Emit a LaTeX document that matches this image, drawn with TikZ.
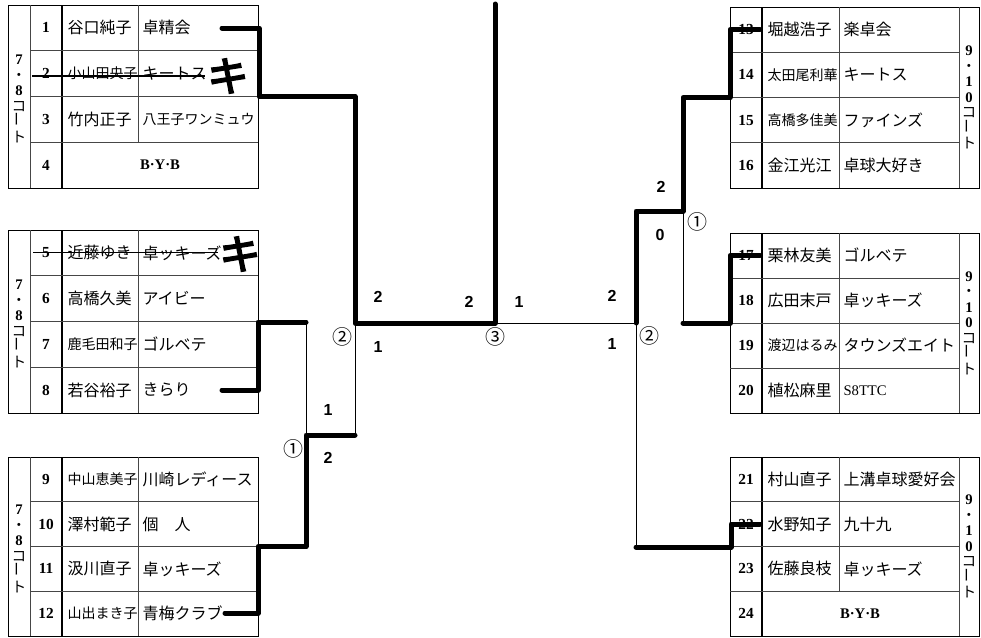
\documentclass[tikz,border=0pt]{standalone}
\usepackage{fontspec}
\usepackage{graphicx}
\setmainfont{Liberation Serif}
\setsansfont{Liberation Sans}
\newfontfamily\jp{Noto Sans CJK JP}
\newfontfamily\jpheavy[FakeBold=4]{Noto Sans CJK JP}

\tikzset{every picture/.style={line width=0.75pt}}
\tikzset{
  tblline/.style={color={rgb, 255:red, 70; green, 70; blue, 70 }, line width=0.6pt},
  colsep/.style={color=black, line width=1.2pt},
  win/.style={line width=3.75pt, line cap=round, line join=round},
  lose/.style={line width=0.75pt},
  num/.style={inner sep=0.75pt, font=\bfseries\fontsize{11.5}{13}\selectfont},
  pname/.style={anchor=west, inner sep=0.75pt, font=\jp\fontsize{12}{14}\selectfont},
  pname5/.style={anchor=west, inner sep=0.75pt, font=\jp\fontsize{10.5}{12}\selectfont},
  club/.style={anchor=west, inner sep=0.75pt, font=\jp\fontsize{12}{14}\selectfont},
  bye/.style={inner sep=0.75pt, font=\bfseries\fontsize{11}{13}\selectfont},
  court/.style={inner sep=0.75pt, align=center, font=\jp\fontsize{11}{11.6}\selectfont},
  score/.style={inner sep=0.75pt, font=\sffamily\bfseries\fontsize{12}{14}\selectfont},
  matchno/.style={inner sep=0.75pt, font=\jp\fontsize{15}{17}\selectfont},
  kiken/.style={inner sep=0pt, font=\jpheavy\fontsize{31}{33}\selectfont},
}
\newcommand{\dg}[1]{{\rmfamily\bfseries #1}}

\begin{document}
\begin{tikzpicture}[x=0.75pt,y=0.75pt,yscale=-1,xscale=1]
\useasboundingbox (0,0) rectangle (981,637);

%Table 7-8 court, block 1-4
\draw (8,5) rectangle (258,188);
\draw [tblline] (30,5) -- (30,188);
\draw [colsep] (62,5) -- (62,188);
\draw [tblline] (138,5) -- (138,142.25);
\draw [tblline] (30,50.75) -- (258,50.75) (30,96.5) -- (258,96.5) (30,142.25) -- (258,142.25);
%Table 7-8 court, block 5-8
\draw (8,230) rectangle (258,413);
\draw [tblline] (30,230) -- (30,413);
\draw [colsep] (62,230) -- (62,413);
\draw [tblline] (138,230) -- (138,413);
\draw [tblline] (30,275.75) -- (258,275.75) (30,321.5) -- (258,321.5) (30,367.25) -- (258,367.25);
%Table 7-8 court, block 9-12
\draw (8,457) rectangle (258,636);
\draw [tblline] (30,457) -- (30,636);
\draw [colsep] (62,457) -- (62,636);
\draw [tblline] (138,457) -- (138,636);
\draw [tblline] (30,501.75) -- (258,501.75) (30,546.5) -- (258,546.5) (30,591.25) -- (258,591.25);

%Table 9-10 court, block 13-16
\draw (730,7) rectangle (979,188);
\draw [tblline] (959,7) -- (959,188);
\draw [colsep] (762,7) -- (762,188);
\draw [tblline] (839,7) -- (839,188);
\draw [tblline] (730,52.25) -- (959,52.25) (730,97.5) -- (959,97.5) (730,142.75) -- (959,142.75);
%Table 9-10 court, block 17-20
\draw (730,233) rectangle (979,413);
\draw [tblline] (959,233) -- (959,413);
\draw [colsep] (762,233) -- (762,413);
\draw [tblline] (839,233) -- (839,413);
\draw [tblline] (730,278) -- (959,278) (730,323) -- (959,323) (730,368) -- (959,368);
%Table 9-10 court, block 21-24
\draw (730,457) rectangle (979,636);
\draw [tblline] (959,457) -- (959,636);
\draw [colsep] (762,457) -- (762,636);
\draw [tblline] (839,457) -- (839,591.25);
\draw [tblline] (730,501.75) -- (959,501.75) (730,546.5) -- (959,546.5) (730,591.25) -- (959,591.25);

% Court Nodes
\draw (19,99) node [court] (c1) {\dg{7}\\・\\\dg{8}\\コ\\\rotatebox{90}{ー}\\ト};
\draw (19,324) node [court] (c2) {\dg{7}\\・\\\dg{8}\\コ\\\rotatebox{90}{ー}\\ト};
\draw (19,549) node [court] (c3) {\dg{7}\\・\\\dg{8}\\コ\\\rotatebox{90}{ー}\\ト};
\draw (969,97.5) node [court] (c4) {\dg{9}\\・\\\dg{1}\\\dg{0}\\コ\\\rotatebox{90}{ー}\\ト};
\draw (969,323) node [court] (c5) {\dg{9}\\・\\\dg{1}\\\dg{0}\\コ\\\rotatebox{90}{ー}\\ト};
\draw (969,546.5) node [court] (c6) {\dg{9}\\・\\\dg{1}\\\dg{0}\\コ\\\rotatebox{90}{ー}\\ト};

% Text Node
\draw (46,27.9) node [num] (n1) {1};
\draw (66,27.9) node [pname] (p1) {谷口純子};
\draw (141,27.9) node [club] (t1) {卓精会};
% Text Node
\draw (46,73.6) node [num] (n2) {2};
\draw (66,73.6) node [pname5] (p2) {小山田央子};
\draw (141,73.6) node [club] (t2) {キートス};
% Text Node
\draw (46,119.4) node [num] (n3) {3};
\draw (66,119.4) node [pname] (p3) {竹内正子};
\draw (141,119.4) node [club, font=\jp\fontsize{10.5}{12}\selectfont] (t3) {八王子ワンミュウ};
% Text Node
\draw (46,165.1) node [num] (n4) {4};
\draw (160,165.1) node [bye] (b4) {B·Y·B};
% Text Node
\draw (46,252.9) node [num] (n5) {5};
\draw (66,252.9) node [pname] (p5) {近藤ゆき};
\draw (141,252.9) node [club] (t5) {卓ッキーズ};
% Text Node
\draw (46,298.6) node [num] (n6) {6};
\draw (66,298.6) node [pname] (p6) {高橋久美};
\draw (141,298.6) node [club] (t6) {アイビー};
% Text Node
\draw (46,344.4) node [num] (n7) {7};
\draw (66,344.4) node [pname5] (p7) {鹿毛田和子};
\draw (141,344.4) node [club] (t7) {ゴルベテ};
% Text Node
\draw (46,390.1) node [num] (n8) {8};
\draw (66,390.1) node [pname] (p8) {若谷裕子};
\draw (141,390.1) node [club] (t8) {きらり};
% Text Node
\draw (46,479.4) node [num] (n9) {9};
\draw (66,479.4) node [pname5] (p9) {中山恵美子};
\draw (141,479.4) node [club] (t9) {川崎レディース};
% Text Node
\draw (46,524.1) node [num] (n10) {10};
\draw (66,524.1) node [pname] (p10) {澤村範子};
\draw (141,524.1) node [club] (t10) {個　人};
% Text Node
\draw (46,568.9) node [num] (n11) {11};
\draw (66,568.9) node [pname] (p11) {汲川直子};
\draw (141,568.9) node [club] (t11) {卓ッキーズ};
% Text Node
\draw (46,613.6) node [num] (n12) {12};
\draw (66,613.6) node [pname5] (p12) {山出まき子};
\draw (141,613.6) node [club] (t12) {青梅クラブ};

% Text Node
\draw (746,29.6) node [num] (n13) {13};
\draw (766,29.6) node [pname] (p13) {堀越浩子};
\draw (842,29.6) node [club] (t13) {楽卓会};
% Text Node
\draw (746,74.9) node [num] (n14) {14};
\draw (766,74.9) node [pname5] (p14) {太田尾利華};
\draw (842,74.9) node [club] (t14) {キートス};
% Text Node
\draw (746,120.1) node [num] (n15) {15};
\draw (766,120.1) node [pname5] (p15) {高橋多佳美};
\draw (842,120.1) node [club] (t15) {ファインズ};
% Text Node
\draw (746,165.4) node [num] (n16) {16};
\draw (766,165.4) node [pname] (p16) {金江光江};
\draw (842,165.4) node [club] (t16) {卓球大好き};
% Text Node
\draw (746,255.5) node [num] (n17) {17};
\draw (766,255.5) node [pname] (p17) {栗林友美};
\draw (842,255.5) node [club] (t17) {ゴルベテ};
% Text Node
\draw (746,300.5) node [num] (n18) {18};
\draw (766,300.5) node [pname] (p18) {広田末戸};
\draw (842,300.5) node [club] (t18) {卓ッキーズ};
% Text Node
\draw (746,345.5) node [num] (n19) {19};
\draw (766,345.5) node [pname5] (p19) {渡辺はるみ};
\draw (842,345.5) node [club] (t19) {タウンズエイト};
% Text Node
\draw (746,390.5) node [num] (n20) {20};
\draw (766,390.5) node [pname] (p20) {植松麻里};
\draw (842,390.5) node [club, font=\fontsize{11}{13}\selectfont] (t20) {S8TTC};
% Text Node
\draw (746,479.4) node [num] (n21) {21};
\draw (766,479.4) node [pname] (p21) {村山直子};
\draw (842,479.4) node [club] (t21) {上溝卓球愛好会};
% Text Node
\draw (746,524.1) node [num] (n22) {22};
\draw (766,524.1) node [pname] (p22) {水野知子};
\draw (842,524.1) node [club] (t22) {九十九};
% Text Node
\draw (746,568.9) node [num] (n23) {23};
\draw (766,568.9) node [pname] (p23) {佐藤良枝};
\draw (842,568.9) node [club] (t23) {卓ッキーズ};
% Text Node
\draw (746,613.6) node [num] (n24) {24};
\draw (860,613.6) node [bye] (b24) {B·Y·B};

%Withdrawn entries
\draw [line width=1.2pt] (32,76) -- (205,76);
\draw (228,76) node [kiken] (k2) {キ};
\draw [line width=1.2pt] (33,252.5) -- (218,252.5);
\draw (240,254) node [kiken] (k5) {キ};

%Bracket points
\coordinate (s1) at (222,28);
\coordinate (k1) at (259,96.5);
\coordinate (s8) at (222,390);
\coordinate (k8) at (258,322);
\coordinate (q8) at (306,322);
\coordinate (s12) at (225,613);
\coordinate (k12) at (258,546.5);
\coordinate (r1L) at (306,435);
\coordinate (q1L) at (355,435);
\coordinate (r2L) at (355,323);
\coordinate (r3) at (495,323);
\coordinate (top) at (495,4);
\coordinate (s13) at (760,29.6);
\coordinate (k13) at (730,97.5);
\coordinate (r1R) at (683,211);
\coordinate (r2R) at (636,323);
\coordinate (s17) at (760,255.5);
\coordinate (k17) at (730,323);
\coordinate (q17) at (683,323);
\coordinate (s22) at (760,524);
\coordinate (k22) at (731,547);
\coordinate (q22) at (636,547);

%Losing lines
\draw [lose] (q8) -- (r1L);
\draw [lose] (q1L) -- (r2L);
\draw [lose] (r2R) -- (r3);
\draw [lose] (q17) -- (r1R);
\draw [lose] (q22) -- (r2R);
%Winning lines
\draw [win] (s1) -| (k1) -| (r2L) -- (r3) -- (top);
\draw [win] (s8) -| (k8) -- (q8);
\draw [win] (s12) -| (k12) -| (r1L) -- (q1L);
\draw [win] (s13) -| (k13) -| (r1R) -| (r2R);
\draw [win] (s17) -| (k17) -- (q17);
\draw [win] (s22) -| (k22) -- (q22);

% Match Nodes
\draw (293,449) node [matchno] (m1L) {①};
\draw (342,337) node [matchno] (m2L) {②};
\draw (495,337) node [matchno] (m3) {③};
\draw (649,336) node [matchno] (m2R) {②};
\draw (697,222) node [matchno] (m1R) {①};
% Score Nodes
\draw (328,410) node [score] (a1) {1};
\draw (328,458) node [score] (a2) {2};
\draw (378,297) node [score] (a3) {2};
\draw (378,347) node [score] (a4) {1};
\draw (469,302) node [score] (a5) {2};
\draw (519,302) node [score] (a6) {1};
\draw (612,296) node [score] (a7) {2};
\draw (612,344) node [score] (a8) {1};
\draw (661,187) node [score] (a9) {2};
\draw (660,235) node [score] (a10) {0};
\end{tikzpicture}
\end{document}
